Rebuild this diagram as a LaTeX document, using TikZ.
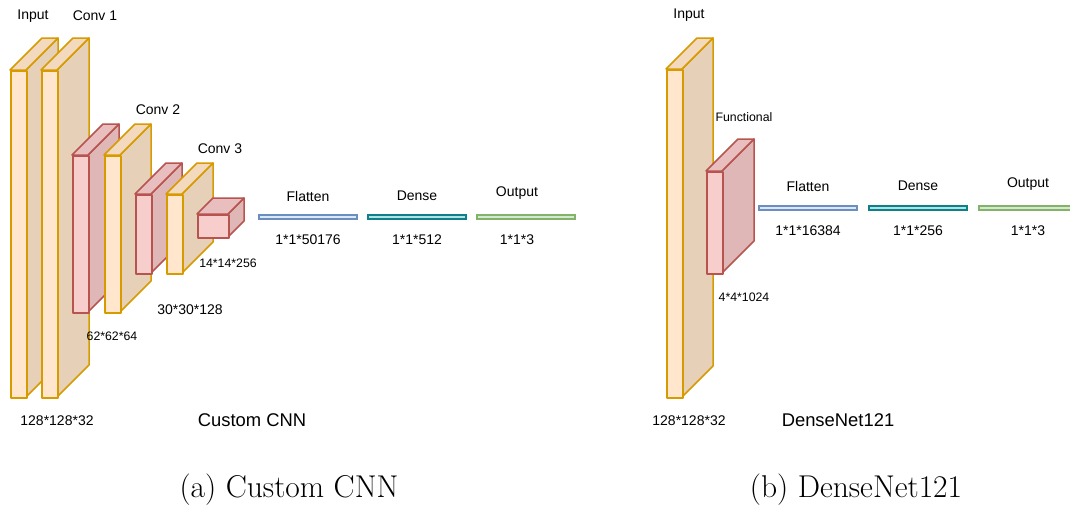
\documentclass[tikz,border=0pt]{standalone}
\usepackage{fontspec}
\newfontfamily\labfont{Liberation Sans}
\definecolor{yfront}{HTML}{FFE6CC}
\definecolor{yside}{HTML}{E6D0B8}
\definecolor{ytop}{HTML}{F3D9BD}
\definecolor{ystroke}{HTML}{D79B00}
\definecolor{rfront}{HTML}{F8CECC}
\definecolor{rside}{HTML}{DFB7B7}
\definecolor{rtop}{HTML}{E8BEBE}
\definecolor{rstroke}{HTML}{B85450}
\definecolor{bfill}{HTML}{DAE8FC}
\definecolor{bstroke}{HTML}{6C8EBF}
\definecolor{tfill}{HTML}{B0E3E6}
\definecolor{tstroke}{HTML}{0E8088}
\definecolor{gfill}{HTML}{D5E8D4}
\definecolor{gstroke}{HTML}{82B366}
\tikzset{
  lab/.style={font=\labfont\fontsize{14}{16}\selectfont, inner sep=0pt, anchor=center},
  labs/.style={font=\labfont\fontsize{12.3}{14}\selectfont, inner sep=0pt, anchor=center},
  labl/.style={font=\labfont\fontsize{18.4}{20}\selectfont, inner sep=0pt, anchor=center},
  capt/.style={font=\fontsize{31.5}{34}\selectfont, inner sep=0pt, anchor=center},
  bar/.style={line width=1.4pt, minimum width=98pt, minimum height=4pt, inner sep=0pt},
  edge/.style={line width=1.5pt, line join=round}
}
% \mybox{name}{x1}{y1}{x2}{y2}{depth}{colour prefix y or r}
\newcommand{\mybox}[7]{%
  \path[fill=#7side, draw=#7stroke, edge] (#4,#3) -- ++(#6,-#6) -- (#4+#6,#5-#6) -- (#4,#5) -- cycle;
  \path[fill=#7top, draw=#7stroke, edge] (#2,#3) -- ++(#6,-#6) -- (#4+#6,#3-#6) -- (#4,#3) -- cycle;
  \node[fill=#7front, draw=#7stroke, edge, inner sep=0pt, minimum width=#4-#2, minimum height=#5-#3, anchor=north west] (#1) at (#2,#3) {};
}
\begin{document}
\begin{tikzpicture}[x=1pt, y=-1pt]
\useasboundingbox (0,0) rectangle (1070,509);
\begin{scope}
\clip (0,0) rectangle (1070,509);
% ---- Custom CNN ----
\mybox{in1}{10}{70}{26}{397}{32}{y}
\mybox{c1}{41}{70}{57}{397}{32}{y}
\mybox{c2r}{72}{155}{88}{312}{31}{r}
\mybox{c2y}{104}{155}{120}{312}{31}{y}
\mybox{c3r}{135}{194}{151}{273}{31}{r}
\mybox{c3y}{166}{194}{182}{273}{31}{y}
\mybox{c4}{197}{214}{228}{237}{16}{r}

\node[bar, fill=bfill, draw=bstroke] (fl1) at (308,217) {};
\node[bar, fill=tfill, draw=tstroke] (de1) at (417,217) {};
\node[bar, fill=gfill, draw=gstroke] (ou1) at (526,217) {};

\node[lab] (t-in1) at (33,16) {Input};
\node[lab] (t-c1) at (95,16) {Conv 1};
\node[lab] (t-c2) at (158,110) {Conv 2};
\node[lab] (t-c3) at (220,149) {Conv 3};
\node[labs] (s-c4) at (228,263) {14*14*256};
\node[lab] (s-c3) at (190,310) {30*30*128};
\node[labs] (s-c2) at (112,336) {62*62*64};
\node[lab] (s-in1) at (57,421) {128*128*32};
\node[labl] (title1) at (252,420) {Custom CNN};
\node[lab] (t-fl1) at (308,196) {Flatten};
\node[lab] (t-de1) at (417,196) {Dense};
\node[lab] (t-ou1) at (517,193) {Output};
\node[lab] (s-fl1) at (308,240) {1*1*50176};
\node[lab] (s-de1) at (417,240) {1*1*512};
\node[lab] (s-ou1) at (517,240) {1*1*3};

% ---- DenseNet121 ----
\mybox{in2}{666}{69}{682}{397}{31}{y}
\mybox{fn}{706}{171}{722}{273}{32}{r}

\node[bar, fill=bfill, draw=bstroke] (fl2) at (808,208) {};
\node[bar, fill=tfill, draw=tstroke] (de2) at (918,208) {};
\node[bar, fill=gfill, draw=gstroke] (ou2) at (1028,208) {};

\node[lab] (t-in2) at (689,15) {Input};
\node[labs] (t-fn) at (744,117) {Functional};
\node[labs] (s-fn) at (744,297) {4*4*1024};
\node[lab] (s-in2) at (689,421) {128*128*32};
\node[labl] (title2) at (838,420) {DenseNet121};
\node[lab] (t-fl2) at (808,186) {Flatten};
\node[lab] (t-de2) at (918,186) {Dense};
\node[lab] (t-ou2) at (1028,184) {Output};
\node[lab] (s-fl2) at (808,231) {1*1*16384};
\node[lab] (s-de2) at (918,231) {1*1*256};
\node[lab] (s-ou2) at (1028,231) {1*1*3};
\end{scope}

% ---- captions ----
\node[capt] (cap1) at (289,490) {(a) Custom CNN};
\node[capt] (cap2) at (856,490) {(b) DenseNet121};
\end{tikzpicture}
\end{document}
